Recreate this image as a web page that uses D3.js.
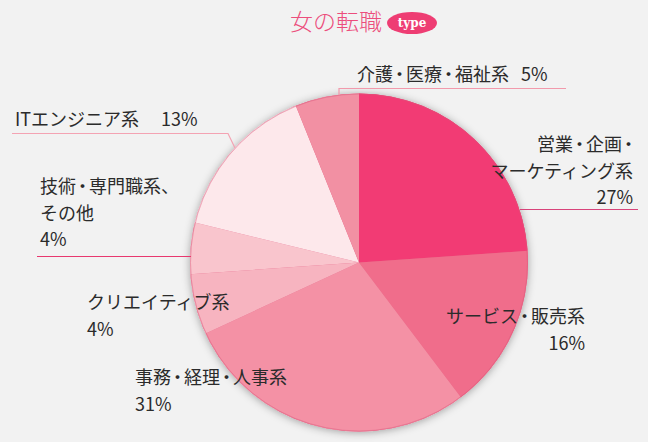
<!DOCTYPE html>
<html>
<head>
<meta charset="utf-8">
<style>
  body { margin: 0; background: #f2f2f2; }
  text { font-family: "Noto Sans CJK JP", "Noto Sans", sans-serif; }
  .lbl { font-size: 18px; fill: #2b2b2b; }
  .dot { font-feature-settings: "palt"; }
</style>
</head>
<body>
<script src="https://cdn.jsdelivr.net/npm/d3@7"></script>
<script>
// slice sizes as drawn (share of the circle), and the printed labels
var categories = ["営業・企画・マーケティング系", "サービス・販売系", "事務・経理・人事系", "クリエイティブ系", "技術・専門職系、その他", "ITエンジニア系", "介護・医療・福祉系"];
var values = [23.9, 15.8, 28.4, 5.8, 4.9, 15.1, 6.1];
var pctLabels = ["27%", "16%", "31%", "4%", "4%", "13%", "5%"];
var colors = ["#f23b74", "#f06d8b", "#f491a5", "#f7b4c0", "#f9c5cd", "#fde8eb", "#f290a3"];

var W = 648, H = 442;
var cx = 359, cy = 262.5, R = 169;

var svg = d3.select("body").append("svg")
  .attr("width", W).attr("height", H);

svg.append("rect").attr("width", W).attr("height", H).attr("fill", "#f2f2f2");

var defs = svg.append("defs");
var f = defs.append("filter").attr("id", "shadow")
  .attr("x", "-20%").attr("y", "-20%").attr("width", "140%").attr("height", "140%");
f.append("feDropShadow").attr("dx", 0).attr("dy", 1).attr("stdDeviation", 4)
  .attr("flood-color", "#000").attr("flood-opacity", 0.35);

// title
svg.append("text").attr("x", 290).attr("y", 30)
  .style("font-size", "23px").style("font-weight", 300)
  .attr("fill", "#ec4d7c").text("女の転職");
svg.append("ellipse").attr("cx", 412).attr("cy", 23).attr("rx", 25).attr("ry", 11)
  .attr("fill", "#ee3d73");
svg.append("text").attr("x", 412).attr("y", 27).attr("text-anchor", "middle")
  .style("font-family", "'DejaVu Serif', serif").style("font-size", "12px").style("font-weight", "bold")
  .attr("fill", "#fff").text("type");

// pie
var pie = d3.pie().sort(null).value(function(d) { return d; });
var arc = d3.arc().innerRadius(0).outerRadius(R);

var g = svg.append("g").attr("transform", "translate(" + cx + "," + cy + ")");
g.append("circle").attr("r", R).attr("fill", "#e2587e").attr("filter", "url(#shadow)");
g.selectAll("path.slice").data(pie(values)).enter().append("path")
  .attr("class", "slice")
  .attr("d", arc)
  .attr("fill", function(d, i) { return colors[i]; });
g.append("circle").attr("r", R - 0.5).attr("fill", "none")
  .attr("stroke", "#d9567a").attr("stroke-opacity", 0.45).attr("stroke-width", 1);

// label layout: lines of text, anchor, x, first baseline; pct on same line uses gap
var labels = [
  { lines: ["営業・企画・", "マーケティング系", pctLabels[0]], anchor: "end", x: 633, y: 151 },
  { lines: ["サービス・販売系", pctLabels[1]], anchor: "end", x: 585, y: 323 },
  { lines: ["事務・経理・人事系", pctLabels[2]], anchor: "start", x: 135, y: 384 },
  { lines: ["クリエイティブ系", pctLabels[3]], anchor: "start", x: 87, y: 309 },
  { lines: ["技術・専門職系、", "その他", pctLabels[4]], anchor: "start", x: 40, y: 193 },
  { lines: ["ITエンジニア系"], tail: pctLabels[5], gap: 22, anchor: "start", x: 15, y: 126 },
  { lines: ["介護・医療・福祉系"], tail: pctLabels[6], gap: 12, anchor: "start", x: 357, y: 81 }
];

// the "・" of the original font is narrow (proportional), with a little air
function addLine(t, s, x, y) {
  var parts = s.split("・");
  parts.forEach(function(p, k) {
    if (k > 0) {
      t.append("tspan").attr("class", "dot").attr("dx", 2).text("・");
    }
    var sp = t.append("tspan").text(p);
    if (k === 0) sp.attr("x", x).attr("y", y);
    else if (p.length) sp.attr("dx", 2);
  });
}

labels.forEach(function(l) {
  var t = svg.append("text").attr("class", "lbl").attr("text-anchor", l.anchor);
  l.lines.forEach(function(s, j) {
    addLine(t, s, l.x, l.y + j * 26.5);
  });
  if (l.tail) t.append("tspan").attr("dx", l.gap).text(l.tail);
});

// leader lines
var leaders = [
  { d: "M339,95 V88.5 H566", stroke: "#f29aac" },
  { d: "M520,209.5 H638", stroke: "#d8437a" },
  { d: "M12,133.5 H228 L235,148", stroke: "#f4a3b3" },
  { d: "M37,256.5 H191", stroke: "#e8386f" }
];
svg.selectAll("path.leader").data(leaders).enter().append("path")
  .attr("class", "leader")
  .attr("d", function(d) { return d.d; })
  .attr("fill", "none")
  .attr("stroke", function(d) { return d.stroke; })
  .attr("stroke-width", 1.2);
</script>
</body>
</html>
